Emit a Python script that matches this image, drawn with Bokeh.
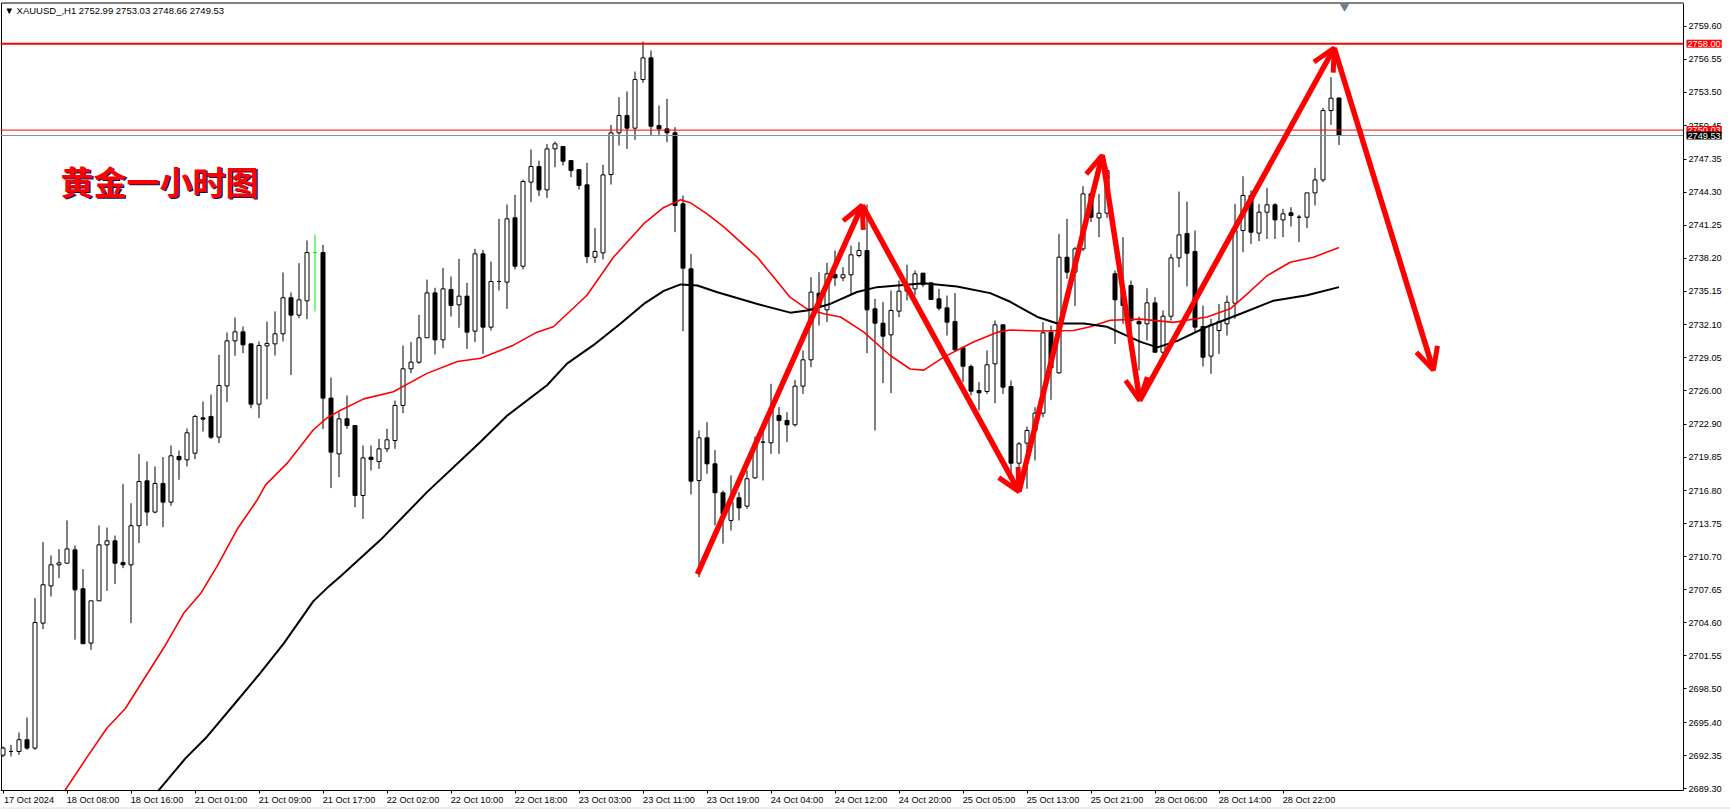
import numpy as np
from bokeh.plotting import figure
from bokeh.models import (Range1d, FixedTicker, NumeralTickFormatter, Label,
                          Arrow, OpenHead)
from bokeh.embed import file_html
from bokeh.resources import INLINE

# ---------------- data ----------------
opens = [2692.40, 2692.74, 2692.74, 2693.82, 2693.05, 2704.57, 2708.01, 2709.95, 2710.10, 2711.33,
         2707.74, 2702.73, 2706.63, 2711.79, 2712.16, 2710.16, 2709.95, 2713.55, 2717.69, 2714.81,
         2717.45, 2715.73, 2719.94, 2719.63, 2720.24, 2723.50, 2723.63, 2721.72, 2726.45, 2730.60,
         2731.43, 2730.32, 2724.76, 2730.14, 2730.32, 2731.25, 2734.57, 2732.97, 2734.29, 2738.74,
         2738.74, 2725.32, 2720.18, 2723.41, 2722.79, 2716.34, 2719.87, 2719.47, 2720.64, 2721.41,
         2724.64, 2728.02, 2728.63, 2730.88, 2735.02, 2730.69, 2735.33, 2733.92, 2734.72, 2731.49,
         2738.62, 2731.86, 2736.07, 2736.01, 2741.94, 2737.48, 2745.23, 2746.67, 2744.52, 2748.30,
         2748.52, 2747.22, 2746.39, 2744.98, 2738.31, 2738.71, 2745.93, 2749.78, 2751.37, 2750.21,
         2754.69, 2756.69, 2750.45, 2750.14, 2749.78, 2743.23, 2737.24, 2717.72, 2721.66, 2719.26,
         2716.59, 2714.04, 2716.13, 2715.36, 2717.97, 2721.26, 2721.20, 2723.72, 2723.26, 2722.86,
         2726.42, 2728.85, 2734.99, 2733.46, 2736.72, 2736.41, 2736.69, 2738.47, 2738.93, 2733.55,
         2732.23, 2731.15, 2733.34, 2735.18, 2735.39, 2736.84, 2735.95, 2734.47, 2733.64, 2732.38,
         2729.95, 2728.23, 2726.02, 2725.93, 2728.48, 2732.08, 2726.39, 2719.32, 2721.17, 2722.33,
         2723.93, 2731.40, 2727.65, 2738.31, 2736.93, 2739.08, 2744.15, 2741.94, 2742.37, 2736.78,
         2735.24, 2735.70, 2732.38, 2732.17, 2734.10, 2729.55, 2732.87, 2738.25, 2740.49, 2738.84,
         2731.92, 2729.19, 2731.55, 2732.17, 2734.07, 2740.77, 2744.00, 2740.53, 2742.46, 2743.14,
         2741.75, 2742.40, 2742.00, 2742.00, 2744.24, 2745.44, 2751.83, 2752.99]

highs = [2693.20, 2693.35, 2694.49, 2695.87, 2706.88, 2712.04, 2710.81, 2711.39, 2714.04, 2711.73,
         2709.55, 2706.63, 2713.58, 2713.39, 2712.65, 2717.39, 2715.63, 2720.18, 2719.48, 2719.02,
         2719.88, 2720.95, 2720.49, 2722.52, 2723.78, 2725.01, 2725.65, 2729.31, 2731.37, 2732.75,
         2731.92, 2730.32, 2730.54, 2732.38, 2733.31, 2736.90, 2735.06, 2737.76, 2739.85, 2740.40,
         2739.45, 2727.22, 2724.00, 2725.56, 2722.79, 2720.95, 2720.95, 2721.56, 2722.49, 2725.10,
         2730.17, 2730.48, 2733.00, 2736.25, 2735.49, 2737.33, 2736.53, 2738.16, 2735.95, 2739.08,
         2738.99, 2737.91, 2741.85, 2743.17, 2744.06, 2745.47, 2748.24, 2747.22, 2748.76, 2748.98,
         2748.52, 2747.22, 2746.39, 2747.01, 2740.99, 2746.83, 2750.51, 2753.06, 2753.59, 2755.43,
         2758.20, 2757.37, 2752.30, 2752.91, 2750.30, 2744.00, 2738.62, 2722.33, 2723.10, 2720.55,
         2716.80, 2718.19, 2716.65, 2718.65, 2721.78, 2722.33, 2726.64, 2724.48, 2724.02, 2727.00,
         2729.71, 2736.47, 2736.93, 2737.79, 2738.93, 2737.39, 2739.39, 2739.70, 2743.17, 2734.47,
         2734.17, 2735.24, 2736.16, 2737.61, 2737.08, 2736.84, 2735.95, 2735.39, 2734.78, 2735.00,
         2730.08, 2728.42, 2726.79, 2729.71, 2732.48, 2732.08, 2726.94, 2721.26, 2722.70, 2724.48,
         2732.32, 2732.01, 2740.47, 2741.85, 2739.24, 2744.86, 2744.31, 2744.15, 2746.61, 2737.08,
         2740.16, 2736.16, 2732.84, 2735.45, 2734.62, 2733.40, 2738.62, 2744.37, 2743.44, 2740.77,
         2733.86, 2732.63, 2734.01, 2734.78, 2743.23, 2745.78, 2744.46, 2743.23, 2744.70, 2743.29,
         2742.77, 2742.92, 2742.21, 2744.24, 2746.55, 2752.08, 2754.91, 2753.03]

lows = [2692.22, 2692.28, 2692.43, 2692.89, 2692.89, 2704.02, 2707.03, 2708.72, 2710.10, 2703.04,
        2702.67, 2702.11, 2706.63, 2707.55, 2708.17, 2709.64, 2704.57, 2711.95, 2713.55, 2714.71,
        2713.42, 2715.39, 2717.79, 2719.02, 2719.69, 2722.24, 2721.54, 2721.17, 2724.95, 2729.22,
        2729.46, 2724.39, 2723.47, 2725.22, 2729.25, 2730.54, 2727.44, 2732.69, 2732.60, 2733.31,
        2722.46, 2717.02, 2718.03, 2722.49, 2715.26, 2714.19, 2718.64, 2718.80, 2720.33, 2720.64,
        2723.93, 2727.62, 2728.48, 2730.88, 2729.34, 2729.92, 2732.84, 2731.80, 2729.86, 2730.48,
        2729.40, 2731.55, 2735.24, 2733.55, 2737.18, 2737.18, 2743.38, 2743.94, 2743.78, 2746.61,
        2746.76, 2745.69, 2744.55, 2737.76, 2737.79, 2738.10, 2745.01, 2748.61, 2748.30, 2749.13,
        2754.39, 2749.53, 2749.59, 2748.91, 2740.62, 2731.49, 2716.43, 2708.81, 2718.34, 2713.58,
        2711.89, 2713.11, 2714.04, 2715.11, 2717.88, 2717.72, 2720.18, 2720.18, 2721.26, 2722.70,
        2725.71, 2728.17, 2732.01, 2732.32, 2735.64, 2736.10, 2734.93, 2738.30, 2729.46, 2722.33,
        2726.70, 2725.78, 2732.78, 2734.32, 2734.78, 2735.55, 2734.38, 2733.40, 2731.09, 2729.65,
        2726.79, 2725.56, 2724.18, 2725.71, 2724.85, 2725.71, 2718.34, 2718.34, 2716.96, 2719.57,
        2723.56, 2725.16, 2727.56, 2736.32, 2733.80, 2738.87, 2741.54, 2740.16, 2741.94, 2730.32,
        2732.17, 2731.55, 2727.86, 2730.63, 2729.55, 2729.40, 2732.47, 2737.39, 2735.61, 2731.40,
        2728.23, 2727.56, 2729.40, 2731.09, 2732.63, 2738.77, 2739.54, 2739.79, 2740.00, 2740.00,
        2740.16, 2741.14, 2739.70, 2740.99, 2743.08, 2745.23, 2750.51, 2748.66]

closes = [2693.05, 2692.74, 2693.82, 2693.05, 2704.63, 2708.11, 2709.95, 2710.13, 2711.42, 2707.64,
          2702.67, 2706.63, 2711.79, 2712.16, 2710.10, 2709.95, 2713.55, 2717.63, 2714.81, 2717.45,
          2715.73, 2720.00, 2719.63, 2722.12, 2723.63, 2723.38, 2721.72, 2726.48, 2730.60, 2731.43,
          2730.23, 2724.76, 2730.17, 2730.36, 2731.25, 2734.57, 2732.97, 2734.38, 2738.74, 2738.74,
          2725.32, 2720.34, 2723.41, 2722.79, 2716.34, 2719.81, 2719.66, 2720.64, 2721.47, 2724.64,
          2728.02, 2728.63, 2730.88, 2735.02, 2730.69, 2735.39, 2733.86, 2734.72, 2731.40, 2738.62,
          2731.86, 2736.07, 2736.07, 2741.85, 2737.48, 2745.29, 2746.67, 2744.52, 2748.30, 2748.76,
          2747.16, 2746.30, 2744.92, 2738.37, 2738.84, 2745.90, 2749.78, 2751.37, 2750.21, 2754.69,
          2756.69, 2750.39, 2750.14, 2749.78, 2743.08, 2737.30, 2717.66, 2721.66, 2719.26, 2716.59,
          2714.65, 2715.73, 2715.20, 2717.88, 2721.10, 2721.26, 2724.24, 2723.26, 2722.86, 2726.42,
          2728.85, 2735.09, 2733.70, 2736.78, 2736.41, 2736.69, 2738.53, 2738.93, 2733.46, 2732.23,
          2731.03, 2733.40, 2735.18, 2735.55, 2736.78, 2735.79, 2734.41, 2733.61, 2732.32, 2729.77,
          2728.26, 2725.96, 2725.81, 2728.39, 2732.08, 2726.33, 2719.32, 2721.10, 2722.33, 2723.93,
          2731.34, 2728.11, 2738.31, 2736.93, 2739.08, 2744.15, 2742.00, 2742.37, 2746.30, 2734.38,
          2733.86, 2732.47, 2732.17, 2734.10, 2729.55, 2732.87, 2738.25, 2740.37, 2738.68, 2731.86,
          2729.09, 2732.07, 2732.38, 2734.16, 2740.77, 2744.00, 2740.62, 2742.46, 2743.14, 2741.75,
          2742.31, 2742.15, 2742.00, 2744.24, 2745.44, 2751.83, 2752.97, 2749.53]

highlighted_bars = [39]          # bar drawn in green

# moving averages (bar position, price)
ma_red_bar = [7.7, 10.4, 13.0, 15.3, 17.6, 20.1, 22.6, 24.7, 26.75, 29.25, 31.75, 32.8, 35.5, 38.8,
              40.5, 42.2, 45.1, 48.8, 53.0, 56.8, 59.7, 63.8, 66.75, 68.8, 73.0, 76.3, 80.1, 82.6,
              84.7, 86.0, 88.0, 90.1, 92.2, 94.3, 96.3, 98.4, 100.5, 102.6, 104.7, 107.6, 110.9,
              113.4, 115.1, 117.6, 121.3, 124.3, 125.9, 129.7, 133.8, 135.9, 138.4, 142.2, 146.3,
              150.5, 153.4, 155.5, 158.0, 160.9, 163.8, 167.0]
ma_red_val = [2689.1, 2692.1, 2694.9, 2696.7, 2699.4, 2702.3, 2705.5, 2707.3, 2709.8, 2713.2,
              2715.9, 2717.3, 2719.3, 2722.4, 2723.5, 2724.2, 2725.25, 2725.9, 2727.6, 2728.7,
              2729.0, 2730.2, 2731.4, 2731.9, 2734.8, 2738.3, 2741.4, 2742.9, 2743.6, 2743.3,
              2742.3, 2741.1, 2739.7, 2738.3, 2736.5, 2734.6, 2733.55, 2733.1, 2732.8, 2731.4,
              2729.25, 2728.0, 2727.9, 2729.1, 2730.5, 2731.4, 2731.6, 2731.5, 2731.55, 2731.9,
              2732.5, 2732.6, 2732.3, 2732.8, 2733.55, 2734.9, 2736.6, 2737.85, 2738.3, 2739.2]

ma_black_bar = [19.4, 22.8, 25.5, 28.8, 32.2, 35.1, 38.8, 40.5, 42.2, 47.2, 53.0, 59.7, 63.0, 68.0,
                70.5, 73.8, 77.2, 80.1, 82.6, 84.7, 86.8, 89.2, 94.3, 98.4, 100.5, 103.4, 106.75,
                109.25, 115.1, 119.25, 123.4, 125.9, 129.3, 131.8, 135.1, 138.0, 140.1, 142.2,
                144.3, 146.8, 150.5, 154.7, 158.8, 163.0, 167.0]
ma_black_val = [2689.1, 2692.1, 2694.1, 2697.0, 2700.0, 2702.7, 2706.6, 2707.8, 2708.9, 2712.25,
                2716.65, 2721.3, 2723.7, 2726.5, 2728.5, 2730.2, 2732.2, 2734.0, 2735.2, 2735.8,
                2735.7, 2735.1, 2734.0, 2733.2, 2733.4, 2734.0, 2735.1, 2735.55, 2735.9, 2735.6,
                2735.0, 2734.2, 2732.8, 2732.2, 2732.2, 2731.9, 2731.2, 2730.5, 2730.0, 2730.6,
                2731.9, 2733.1, 2734.3, 2734.8, 2735.55]

# hand-drawn zig-zag arrows (vertices: bar position, price)
arrow_bar = [86.8, 107.4, 127.0, 137.4, 142.1, 166.4, 178.8]
arrow_val = [2709.1, 2743.1, 2716.7, 2747.7, 2725.1, 2757.6, 2727.9]

# horizontal levels
resistance_level = 2758.00
second_level = 2750.03
bid_price = 2749.53

date_labels = ["17 Oct 2024", "18 Oct 08:00", "18 Oct 16:00", "21 Oct 01:00", "21 Oct 09:00",
               "21 Oct 17:00", "22 Oct 02:00", "22 Oct 10:00", "22 Oct 18:00", "23 Oct 03:00",
               "23 Oct 11:00", "23 Oct 19:00", "24 Oct 04:00", "24 Oct 12:00", "24 Oct 20:00",
               "25 Oct 05:00", "25 Oct 13:00", "25 Oct 21:00", "28 Oct 06:00", "28 Oct 14:00",
               "28 Oct 22:00"]
bars_per_date_label = 8

price_ticks = [2759.60, 2756.55, 2753.50, 2750.45, 2747.35, 2744.30, 2741.25, 2738.20, 2735.15,
               2732.10, 2729.05, 2726.00, 2722.90, 2719.85, 2716.80, 2713.75, 2710.70, 2707.65,
               2704.60, 2701.55, 2698.50, 2695.40, 2692.35, 2689.30]

header_text = "\u25bc XAUUSD_,H1  2752.99 2753.03 2748.66 2749.53"
title_text = "黄金一小时图"

# ---------------- layout ----------------
PAGE_MARGIN = 0            # bokeh's page template has no body margin
PX_PER_BAR = 8.0
BAR0_PAGE_X = 2.5          # page x of bar 0 centre in the reference
AXIS_PAGE_X = 1683         # page x of the price axis line
AXIS_PAGE_Y = 790          # page y of the time axis line
PX_PER_PRICE = 10.846
REF_PRICE, REF_PAGE_Y = 2759.60, 25.8
FRAME_W, FRAME_H = 1730, 810

def bar_at(page_x):
    return (page_x - BAR0_PAGE_X) / PX_PER_BAR

def price_at(page_y):
    return REF_PRICE - (page_y - REF_PAGE_Y) / PX_PER_PRICE

x_start = bar_at(PAGE_MARGIN)
x_end = bar_at(PAGE_MARGIN + FRAME_W)
x_axis = bar_at(AXIS_PAGE_X)
y_end = price_at(PAGE_MARGIN)
y_start = price_at(PAGE_MARGIN + FRAME_H)
y_axis = price_at(AXIS_PAGE_Y)

FONT = "Liberation Sans"
LABEL_SIZE = "9.2px"

p = figure(frame_width=FRAME_W, frame_height=FRAME_H,
           x_range=Range1d(x_start, x_end), y_range=Range1d(y_start, y_end),
           output_backend="svg", toolbar_location=None, y_axis_location="right",
           min_border=0, background_fill_color="white", border_fill_color="white",
           outline_line_color=None)
p.xgrid.visible = False
p.ygrid.visible = False

# ---- price axis (drawn at the chart's right edge, labels to its right)
ya = p.yaxis[0]
ya.fixed_location = x_axis
ya.bounds = (y_axis, price_at(2.5))
ya.ticker = FixedTicker(ticks=price_ticks, minor_ticks=[])
ya.formatter = NumeralTickFormatter(format="0.00")
ya.major_tick_out = 3
ya.major_tick_in = 0
ya.minor_tick_line_color = None
ya.axis_line_color = "black"
ya.major_label_standoff = 2
ya.major_label_text_font = FONT
ya.major_label_text_font_size = LABEL_SIZE
ya.major_label_text_color = "black"

# ---- time axis (bottom): tick marks as minor ticks, labels shifted so they start at the tick
xa = p.xaxis[0]
xa.fixed_location = y_axis
tick_bars = [i * bars_per_date_label for i in range(len(date_labels))]
label_shift = 3.25
label_pos = [t + label_shift for t in tick_bars]
xa.ticker = FixedTicker(ticks=label_pos, minor_ticks=tick_bars)
xa.major_label_overrides = {lp: lab for lp, lab in zip(label_pos, date_labels)}
xa.bounds = (x_start, x_axis)
xa.major_tick_line_color = None
xa.major_tick_out = 2
xa.major_tick_in = 0
xa.minor_tick_out = 3
xa.minor_tick_in = 0
xa.minor_tick_line_color = "black"
xa.axis_line_color = "black"
xa.major_label_standoff = 1
xa.major_label_text_font = FONT
xa.major_label_text_font_size = LABEL_SIZE
xa.major_label_text_color = "black"

# ---- chart border (left and top edges) and the bottom window strip
edge_x = bar_at(1.0)
edge_y = price_at(2.5)
p.line([edge_x, edge_x, x_axis], [y_axis, edge_y, edge_y], line_color="black", line_width=1)
p.segment([x_start], [price_at(807.5)], [x_end], [price_at(807.5)],
          line_color="#dcdcdc", line_width=1)

# ---- candles
o = np.array(opens); h = np.array(highs); l = np.array(lows); c = np.array(closes)
idx = np.arange(len(o))
green = np.zeros(len(o), bool)
green[highlighted_bars] = True
up = (c >= o) & ~green
dn = (c < o) & ~green

p.segment(idx[~green], l[~green], idx[~green], h[~green], line_color="black", line_width=1)
p.vbar(x=idx[up], width=0.5, top=c[up], bottom=o[up], fill_color="white",
       line_color="black", line_width=1)
p.vbar(x=idx[dn], width=0.5, top=o[dn], bottom=c[dn], fill_color="black",
       line_color="black", line_width=1)
p.segment(idx[green], l[green], idx[green], h[green], line_color="#00ee00", line_width=1)
p.vbar(x=idx[green], width=0.5, top=np.maximum(o, c)[green], bottom=np.minimum(o, c)[green],
       fill_color="#00ee00", line_color="#00ee00", line_width=1)

# ---- moving averages
p.line(ma_red_bar, ma_red_val, line_color="#ff0000", line_width=1.6)
p.line(ma_black_bar, ma_black_val, line_color="black", line_width=2)

# ---- horizontal levels (from the left edge to the price axis)
p.segment([x_start], [resistance_level], [x_axis], [resistance_level],
          line_color="#ff0000", line_width=2)
p.segment([x_start], [second_level], [x_axis], [second_level],
          line_color="#ff0000", line_width=1)
p.segment([x_start], [bid_price], [x_axis], [bid_price],
          line_color="#8a8f96", line_width=1)

# ---- zig-zag arrows
for i in range(len(arrow_bar) - 1):
    p.add_layout(Arrow(end=OpenHead(size=22, line_color="#ff0000", line_width=5),
                       x_start=arrow_bar[i], y_start=arrow_val[i],
                       x_end=arrow_bar[i + 1], y_end=arrow_val[i + 1],
                       line_color="#ff0000", line_width=5.5))

# ---- price tags on the price axis
def price_tag(level, bg):
    p.add_layout(Label(x=x_axis, y=level, text=f"{level:.2f}", x_offset=3,
                       text_font=FONT, text_font_size=LABEL_SIZE, text_color="white",
                       text_baseline="middle", text_align="left",
                       background_fill_color=bg, padding=1))

price_tag(resistance_level, "#ff0000")
price_tag(second_level, "#ff0000")
price_tag(bid_price, "black")

# ---- header and title
p.add_layout(Label(x=x_start, y=price_at(10), x_offset=4, text=header_text,
                   text_font=FONT, text_font_size="9.5px", text_color="black",
                   text_baseline="middle", text_align="left"))

title_x = bar_at(60)
title_y = price_at(180)
p.add_layout(Label(x=title_x, y=title_y, x_offset=1.5, y_offset=-1.5, text=title_text,
                   text_font="Noto Sans CJK SC", text_font_size="33px", text_font_style="bold",
                   text_color="#10105a", text_baseline="middle", text_align="left"))
p.add_layout(Label(x=title_x, y=title_y, text=title_text,
                   text_font="Noto Sans CJK SC", text_font_size="33px", text_font_style="bold",
                   text_color="#ff0000", text_baseline="middle", text_align="left"))

# ---- chart-shift marker at the top
shift_bar = len(o) - 1 + 0.7
p.scatter([shift_bar], [price_at(6)], marker="inverted_triangle", size=8,
          fill_color="#6b7f94", line_color="#6b7f94")

open("out.html", "w").write(file_html(p, INLINE))
